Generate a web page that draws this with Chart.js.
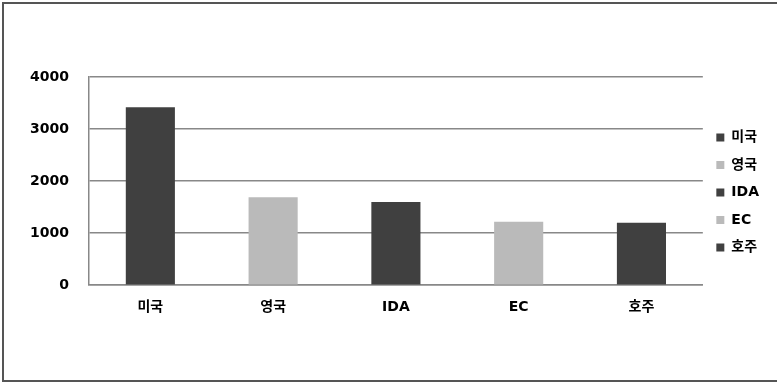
<!DOCTYPE html>
<html><head><meta charset="utf-8">
<script src="https://cdn.jsdelivr.net/npm/chart.js@4.4.0/dist/chart.umd.min.js"></script>
<style>
html,body{margin:0;padding:0;background:#fff;overflow:hidden}
#wrap{position:relative;width:777px;height:382px}
#frame{position:absolute;left:2px;top:2px;width:800px;height:376px;border:2px solid #555;box-sizing:content-box;pointer-events:none}
canvas{position:absolute;left:0;top:0}
</style></head>
<body>
<div id="wrap"><canvas id="c" width="777" height="382"></canvas><div id="frame"></div></div>
<script>
const categories = ["미국", "영국", "IDA", "EC", "호주"];
const seriesNames = ["미국", "영국", "IDA", "EC", "호주"];
const values = [3420, 1690, 1600, 1220, 1200];
const yTicks = [0, 1000, 2000, 3000, 4000];
const colors = ["#404040", "#bababa", "#404040", "#bababa", "#404040"];

const FONT = '"DejaVu Sans", "Noto Sans CJK KR", sans-serif';
const datasets = seriesNames.map((name, i) => ({
  label: name,
  data: categories.map((c, j) => (j === i ? values[i] : null)),
  backgroundColor: colors[i],
  borderColor: colors[i],
  borderWidth: 0,
  barPercentage: 0.4,
  categoryPercentage: 1.0,
  grouped: false
}));

const legendShift = {
  id: 'legendShift',
  afterLayout(chart) {
    if (chart.legend) { chart.legend.top -= 11; chart.legend.bottom -= 11; }
  }
};

new Chart(document.getElementById('c'), {
  type: 'bar',
  data: { labels: categories, datasets },
  plugins: [legendShift],
  options: {
    responsive: false,
    animation: false,
    layout: { padding: { left: 10, top: 77, right: 8, bottom: 52 } },
    plugins: {
      tooltip: { enabled: false },
      legend: {
        position: 'right',
        align: 'center',
        labels: {
          boxWidth: 8, boxHeight: 8,
          padding: 13.5,
          color: '#000',
          font: { family: FONT, size: 14, weight: 'bold' }
        }
      }
    },
    scales: {
      y: {
        min: 0, max: 4000,
        afterBuildTicks: (ax) => { ax.ticks = yTicks.map(v => ({ value: v })); },
        ticks: { color: '#000', padding: 20, font: { family: FONT, size: 14, weight: 'bold' },
                 callback: (v) => String(v) },
        grid: { color: '#888', lineWidth: 1.5, drawTicks: false },
        border: { display: true, color: '#888', width: 1.5 }
      },
      x: {
        ticks: { color: '#000', padding: 14, font: { family: FONT, size: 14, weight: 'bold' } },
        grid: { display: false, drawTicks: false },
        border: { display: true, color: '#888', width: 1.5 }
      }
    }
  }
});
</script>
</body></html>
